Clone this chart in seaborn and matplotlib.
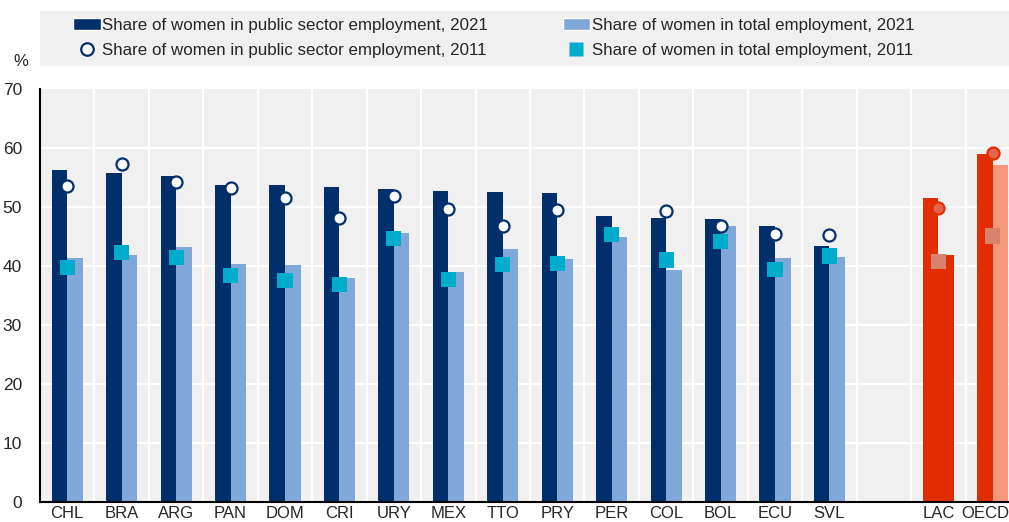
import numpy as np
import pandas as pd
import matplotlib
matplotlib.use("Agg")
import matplotlib.pyplot as plt
import matplotlib.transforms as mtransforms
from matplotlib.patches import Rectangle, Patch
from matplotlib.lines import Line2D
import seaborn as sns

# 데이터
countries = ["CHL", "BRA", "ARG", "PAN", "DOM", "CRI", "URY", "MEX", "TTO",
             "PRY", "PER", "COL", "BOL", "ECU", "SVL", " ", "LAC", "OECD"]
public_2021 = [56.2, 55.8, 55.3, 53.8, 53.8, 53.4, 53.1, 52.7, 52.5,
               52.4, 48.4, 48.2, 47.9, 46.7, 43.4, np.nan, 51.6, 59.0]
total_2021 = [41.3, 41.8, 43.2, 40.4, 40.2, 38.0, 45.6, 39.0, 42.9,
              41.2, 44.9, 39.4, 46.7, 41.4, 41.6, np.nan, 41.8, 57.2]
public_2011 = [53.6, 57.3, 54.2, 53.2, 51.6, 48.2, 51.9, 49.7, 46.7,
               49.5, np.nan, 49.4, 46.8, 45.4, 45.2, np.nan, 49.9, 59.1]
total_2011 = [39.8, 42.3, 41.4, 38.4, 37.5, 36.9, 44.7, 37.7, 40.2,
              40.4, 45.3, 41.0, 44.2, 39.4, 41.7, np.nan, 40.7, 45.1]

lab_pub21 = "Share of women in public sector employment, 2021"
lab_tot21 = "Share of women in total employment, 2021"
lab_pub11 = "Share of women in public sector employment, 2011"
lab_tot11 = "Share of women in total employment, 2011"

navy, light, cyan = "#002F6C", "#7FA8D9", "#00ACCB"
red, salmon = "#E12D00", "#F5977A"
red_dot, red_sq = "#E4654B", "#D9826F"
bg = "#F0F0F0"

sns.set_style("white")
plt.rcParams["font.family"] = ["Liberation Sans", "DejaVu Sans"]

bars = pd.DataFrame({
    "country": countries * 2,
    "value": public_2021 + total_2021,
    "series": [lab_pub21] * len(countries) + [lab_tot21] * len(countries),
})

fig = plt.figure(figsize=(10.09, 5.22), dpi=100)
ax = fig.add_axes([40 / 1009, 20 / 522, 980 / 1009, 413 / 522])
ax.set_facecolor(bg)

sns.barplot(data=bars, x="country", y="value", hue="series", order=countries,
            hue_order=[lab_pub21, lab_tot21], palette=[navy, light],
            width=0.57, saturation=1, gap=0, legend=False, ax=ax, zorder=2)

# LAC / OECD 막대 색 바꾸기
for p in ax.patches:
    xc = p.get_x() + p.get_width() / 2
    idx = int(round(xc))
    if countries[idx] in ("LAC", "OECD"):
        p.set_facecolor(red if p.get_x() < idx else salmon)
    p.set_edgecolor("none")

pos = np.arange(len(countries))
grp = np.array(["oecd" if c in ("LAC", "OECD") else "cty" for c in countries])
pts = pd.DataFrame({"x": pos, "pub": public_2011, "tot": total_2011, "grp": grp})

sns.scatterplot(data=pts, x="x", y="tot", hue="grp", palette={"cty": cyan, "oecd": red_sq},
                marker="s", s=120, edgecolor="none", legend=False, ax=ax, zorder=3)
sns.scatterplot(data=pts[pts.grp == "cty"], x="x", y="pub", color="white", marker="o", s=75,
                edgecolor=navy, linewidth=1.6, legend=False, ax=ax, zorder=4)
sns.scatterplot(data=pts[pts.grp == "oecd"], x="x", y="pub", color=red_dot, marker="o", s=75,
                edgecolor=red, linewidth=1.6, legend=False, ax=ax, zorder=4)

ax.set_xlim(-0.5, len(countries) - 0.5)
ax.set_ylim(0, 70)
ax.set_yticks(range(0, 71, 10))
ax.set_xticks(pos)
ax.set_xticklabels(countries)
ax.set_xticks(np.arange(0.5, len(countries) - 0.5), minor=True)
ax.set_xlabel("")
ax.set_ylabel("")

ax.grid(False)
for y in range(10, 70, 10):
    ax.axhline(y, color="white", lw=1.6, zorder=1)
for x in np.arange(0.5, len(countries) - 0.5):
    ax.axvline(x, color="white", lw=1.6, zorder=1)

for s in ["top", "right"]:
    ax.spines[s].set_visible(False)
for s in ["left", "bottom"]:
    ax.spines[s].set_color("black")
    ax.spines[s].set_linewidth(1.5)
    ax.spines[s].set_zorder(5)

ax.tick_params(axis="y", direction="in", length=5, width=1.2, labelsize=12.5, pad=13)
ax.tick_params(axis="x", which="major", length=0, labelsize=12, pad=3)
ax.tick_params(axis="x", which="minor", direction="in", length=5, width=1.2)

# OECD 라벨이 그림 밖으로 잘리지 않도록 살짝 왼쪽으로
last = ax.get_xticklabels()[-1]
last.set_transform(last.get_transform() + mtransforms.ScaledTranslation(-8 / 100, 0, fig.dpi_scale_trans))

fig.text(13 / 1009, 1 - 62 / 522, "%", fontsize=12, ha="left", va="center")

# 범례
fig.patches.append(Rectangle((40 / 1009, 1 - 66 / 522), 1.0, 55 / 522,
                             transform=fig.transFigure, facecolor=bg, edgecolor="none", zorder=0))
handles = [
    Patch(facecolor=navy, label=lab_pub21),
    Line2D([], [], ls="none", marker="o", markersize=9, markerfacecolor="white",
           markeredgecolor=navy, markeredgewidth=1.6, label=lab_pub11),
    Patch(facecolor=light, label=lab_tot21),
    Line2D([], [], ls="none", marker="s", markersize=10, markerfacecolor=cyan,
           markeredgecolor="none", label=lab_tot11),
]
fig.legend(handles=handles, ncol=2, frameon=False, fontsize=12.2,
           loc="center left", bbox_to_anchor=(65 / 1009, 1 - 38 / 522),
           handlelength=1.6, handleheight=0.7, handletextpad=0.1,
           columnspacing=4.4, labelspacing=0.55, borderpad=0)

fig.savefig("out.png", dpi=100)
